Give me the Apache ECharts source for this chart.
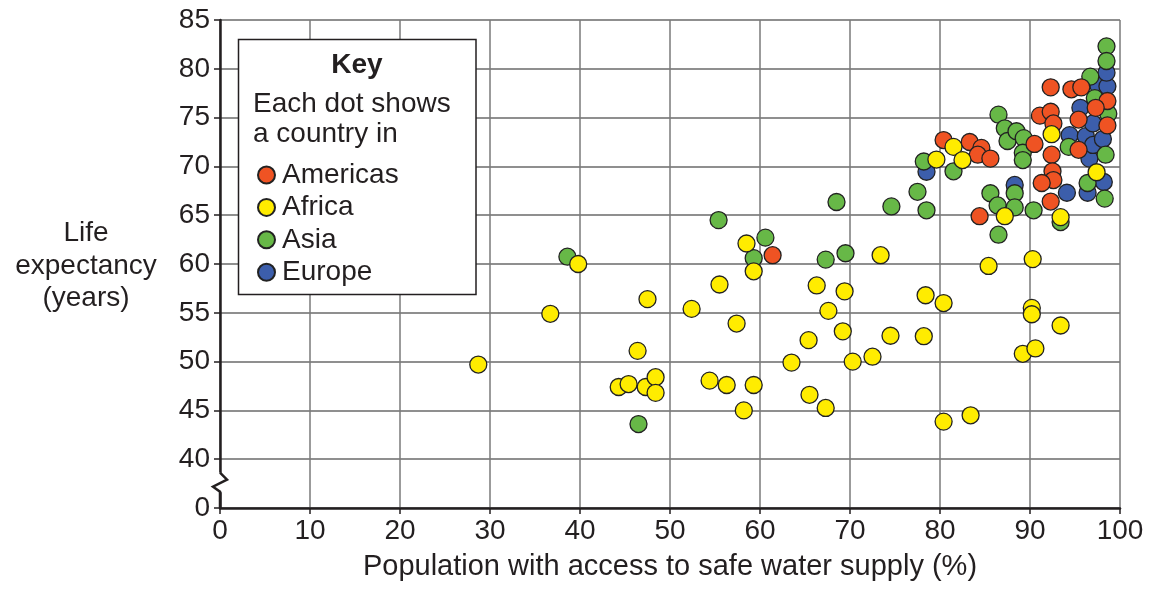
<!DOCTYPE html>
<html>
<head>
<meta charset="utf-8">
<script src="https://cdn.jsdelivr.net/npm/echarts@6/dist/echarts.min.js"></script>
<style>
html,body{margin:0;padding:0;background:#fff;}
#chart{width:1155px;height:590px;}
</style>
</head>
<body>
<div id="chart"></div>
<script>
// [x = % population with safe water, y = life expectancy (years)]
const americas = [[92.3,78.1],[94.6,77.9],[95.7,78.1],[98.6,76.7],[97.3,76.0],[91.1,75.2],[92.3,75.6],[92.6,74.4],[95.4,74.8],[98.6,74.2],[90.5,72.3],[95.4,71.7],[92.4,71.2],[92.5,69.5],[92.6,68.6],[91.3,68.3],[92.3,66.4],[84.4,64.9],[80.4,72.7],[83.3,72.5],[84.6,71.9],[84.2,71.2],[85.6,70.8],[61.4,60.9]];
const africa = [[28.7,49.7],[36.7,54.9],[39.8,60.0],[44.3,47.4],[45.4,47.7],[46.4,51.1],[47.3,47.4],[47.5,56.4],[48.4,48.4],[48.4,46.8],[52.4,55.4],[54.4,48.05],[55.5,57.9],[56.3,47.6],[57.4,53.9],[58.2,45.0],[58.5,62.1],[59.3,59.25],[59.3,47.6],[63.5,49.9],[65.4,52.2],[65.5,46.6],[66.3,57.8],[67.3,45.25],[67.6,55.2],[69.2,53.1],[69.4,57.2],[70.3,50.0],[72.5,50.5],[73.4,60.9],[74.5,52.65],[78.2,52.6],[78.4,56.8],[79.6,70.7],[80.4,56.0],[80.4,43.85],[81.5,72.0],[82.5,70.65],[83.4,44.5],[85.4,59.8],[87.2,64.9],[89.2,50.8],[90.2,55.5],[90.2,54.85],[90.3,60.5],[90.6,51.35],[92.4,73.3],[93.4,53.7],[93.4,64.8],[97.4,69.4]];
const asia = [[38.6,60.75],[46.5,43.6],[55.4,64.5],[59.3,60.6],[60.6,62.7],[67.3,60.45],[68.5,66.35],[69.5,61.1],[74.6,65.9],[77.5,67.4],[78.5,65.5],[78.2,70.5],[81.5,69.5],[85.6,67.25],[86.4,66.0],[86.5,63.0],[86.5,75.3],[87.2,73.9],[87.5,72.6],[88.5,73.6],[89.3,72.9],[88.3,67.25],[88.3,65.8],[89.2,71.4],[89.2,70.65],[90.4,65.5],[93.4,64.3],[94.3,72.0],[96.4,68.3],[96.7,79.2],[97.2,77.0],[98.5,82.3],[98.5,80.8],[98.7,75.4],[98.4,71.2],[98.3,66.7]];
const europe = [[78.5,69.45],[88.3,68.1],[94.1,67.3],[94.4,73.2],[95.6,76.0],[96.2,73.1],[96.4,67.3],[96.6,70.8],[97.0,74.4],[97.0,72.2],[97.6,78.3],[98.1,72.8],[98.2,68.4],[98.6,78.2],[98.5,79.6]];

const regionNames = ['Americas','Africa','Asia','Europe'];
const regionColors = ['#EF5323','#FFEC00','#67B847','#3C5EAB'];
const xTicks = [0,10,20,30,40,50,60,70,80,90,100];
const yTickLabels = ['0','40','45','50','55','60','65','70','75','80','85'];

// Broken y axis: the part 0..40 is shrunk into one step, so values >= 40 are shifted down by 35
const BREAK_SHIFT = 35;
const toAxis = pts => pts.map(p => [p[0], p[1] - BREAK_SHIFT]);

const FONT = '"Liberation Sans", Arial, Helvetica, sans-serif';
const TXT = '#231f20';

const chart = echarts.init(document.getElementById('chart'), null, {renderer:'canvas'});

function mkSeries(name, data, color, z) {
  return {
    name: name, type: 'scatter', data: toAxis(data), symbol: 'circle', symbolSize: 17, z: z,
    itemStyle: {color: color, borderColor: '#222', borderWidth: 1.3, opacity: 1},
    emphasis: {disabled: true}
  };
}

const option = {
  animation: false,
  backgroundColor: '#fff',
  textStyle: {fontFamily: FONT},
  grid: {left: 220, right: 35, top: 20, bottom: 82, containLabel: false},
  xAxis: {
    type: 'value', min: 0, max: 100, interval: 10,
    axisLine: {show: true, onZero: false, lineStyle: {color: TXT, width: 2.5}},
    axisTick: {show: true, length: 6, lineStyle: {color: TXT, width: 1.5}},
    axisLabel: {color: TXT, fontSize: 28, fontFamily: FONT, margin: 9,
      formatter: v => xTicks.indexOf(v) >= 0 ? String(v) : ''},
    splitLine: {show: true, lineStyle: {color: '#7a7a7a', width: 1.5}},
    name: 'Population with access to safe water supply (%)',
    nameLocation: 'middle', nameGap: 44,
    nameTextStyle: {color: TXT, fontSize: 29, fontFamily: FONT}
  },
  yAxis: {
    type: 'value', min: 0, max: 50, interval: 5,
    axisLine: {show: true, onZero: false, lineStyle: {color: TXT, width: 2.5}},
    axisTick: {show: true, length: 6, lineStyle: {color: TXT, width: 1.5}},
    axisLabel: {color: TXT, fontSize: 28, fontFamily: FONT, margin: 10,
      formatter: v => yTickLabels[Math.round(v / 5)]},
    splitLine: {show: true, lineStyle: {color: '#6a6a6a', width: 1.5}}
  },
  legend: {
    data: regionNames, orient: 'vertical', left: 252, top: 156,
    itemWidth: 17, itemHeight: 17, itemGap: 4.4, icon: 'circle',
    textStyle: {color: TXT, fontSize: 28, fontFamily: FONT, lineHeight: 26, padding: [0,0,0,2]},
    selectedMode: false, z: 10
  },
  series: [
    mkSeries('Europe', europe, regionColors[3], 2),
    mkSeries('Asia', asia, regionColors[2], 3),
    mkSeries('Americas', americas, regionColors[0], 4),
    mkSeries('Africa', africa, regionColors[1], 5)
  ]
};
chart.setOption(option);

const p0 = chart.convertToPixel({gridIndex: 0}, [0, 0]);
const p5 = chart.convertToPixel({gridIndex: 0}, [0, 5]);
const ax = p0[0], yb = p5[1];

chart.setOption({
  graphic: [
    {type: 'rect', z: 8, shape: {x: 238.5, y: 39.5, width: 237.5, height: 255},
      style: {fill: '#fff', stroke: TXT, lineWidth: 1.5}},
    {type: 'text', z: 9, x: 357, y: 65,
      style: {text: 'Key', fontSize: 28, fontWeight: 'bold', fontFamily: FONT, fill: TXT, align: 'center', verticalAlign: 'middle'}},
    {type: 'text', z: 9, x: 253, y: 119.5,
      style: {text: 'Each dot shows\na country in', fontSize: 28, lineHeight: 29.5, fontFamily: FONT, fill: TXT, align: 'left', verticalAlign: 'middle'}},
    {type: 'text', z: 9, x: 86, y: 266,
      style: {text: 'Life\nexpectancy\n(years)', fontSize: 28, lineHeight: 32.5, fontFamily: FONT, fill: TXT, align: 'center', verticalAlign: 'middle'}},
    {type: 'rect', z: 20, shape: {x: ax - 3, y: yb + 13.5, width: 6, height: 19.5}, style: {fill: '#fff'}},
    {type: 'polyline', z: 21, shape: {points: [[ax, yb + 13.5], [ax + 7, yb + 20.5], [ax - 7, yb + 27.5], [ax, yb + 32.5], [ax, p0[1]]]},
      style: {stroke: TXT, lineWidth: 2.5, fill: null, lineJoin: 'miter'}}
  ]
});
</script>
</body>
</html>
